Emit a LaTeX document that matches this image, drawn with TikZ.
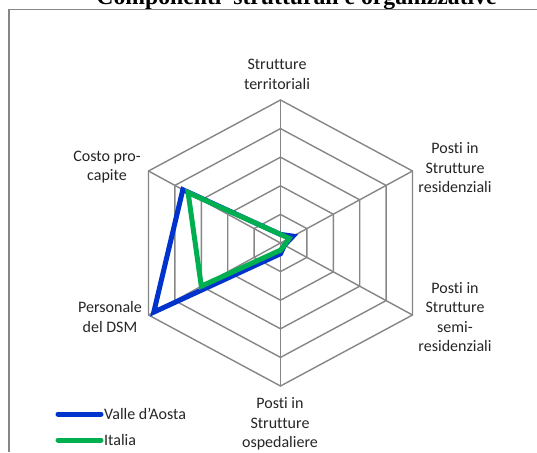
\documentclass[tikz,border=0pt]{standalone}
\usepackage{fontspec}
\setmainfont{Carlito}[Ligatures={NoCommon}]
\newfontfamily\titlefont{Liberation Serif}
\usetikzlibrary{calc}
\definecolor{gridgray}{RGB}{134,134,134}
\definecolor{vdablue}{RGB}{0,51,204}
\definecolor{itgreen}{RGB}{0,176,80}
\begin{document}
\begin{tikzpicture}[x=1pt,y=-1pt,
  lbl/.style={font=\fontsize{16}{19.5}\selectfont, align=center, inner sep=0pt, text=black!85},
  ttl/.style={font=\titlefont\bfseries\fontsize{23.7}{26}\selectfont, inner sep=0pt, anchor=base},
  frameline/.style={draw=gridgray, line width=1.5pt},
  gridline/.style={draw=gridgray, line width=1.4pt},
  vdaline/.style={draw=vdablue, line width=5pt, line join=miter, miter limit=3},
  itline/.style={draw=itgreen, line width=5pt, line join=miter, miter limit=3},
  legline/.style={line width=5pt, line cap=round, shorten >=3pt, shorten <=2pt}]
\useasboundingbox (0,0) rectangle (537,452);
\clip (0,0) rectangle (537,452);
\fill[white] (0,0) rectangle (537,452);
\node[ttl] (title) at (296.5,5) {Componenti\ \ strutturali e organizzative};
\fill[white] (9,9.5) rectangle (537,452);
\draw[frameline] (9,452) -- (9,9.5) -- (537,9.5);
\begin{scope}[shift={(280.5,243)}]
  \coordinate (c) at (0,0);
  \coordinate (a1) at (0,-143);
  \coordinate (a2) at (132,-72);
  \coordinate (a3) at (132,72);
  \coordinate (a4) at (0,143);
  \coordinate (a5) at (-132,72);
  \coordinate (a6) at (-132,-72);
  \foreach \r in {0.2,0.4,0.6,0.8,1}
    \draw[gridline] ($(c)!\r!(a1)$) -- ($(c)!\r!(a2)$) -- ($(c)!\r!(a3)$) -- ($(c)!\r!(a4)$) -- ($(c)!\r!(a5)$) -- ($(c)!\r!(a6)$) -- cycle;
  \foreach \i in {1,...,6}
    \draw[gridline] (c) -- (a\i);
  \draw[vdaline] ($(c)!0.06!(a1)$) -- ($(c)!0.095!(a2)$) -- ($(c)!0.03!(a3)$) -- ($(c)!0.075!(a4)$) -- ($(c)!0.96!(a5)$) -- ($(c)!0.74!(a6)$) -- cycle;
  \draw[itline] ($(c)!0.06!(a1)$) -- ($(c)!0.065!(a2)$) -- ($(c)!0.03!(a3)$) -- ($(c)!0.05!(a4)$) -- ($(c)!0.6!(a5)$) -- ($(c)!0.7!(a6)$) -- cycle;
\end{scope}
\node[lbl] (l1) at (277,74.5) {Strutture\\territoriali};
\node[lbl] (l2) at (455,167.7) {Posti in\\Strutture\\residenziali};
\node[lbl] (l3) at (455,317) {Posti in\\Strutture\\semi-\\residenziali};
\node[lbl] (l4) at (280,424) {Posti in\\Strutture\\ospedaliere};
\node[lbl] (l5) at (110,317) {Personale\\del DSM};
\node[lbl] (l6) at (107,167) {Costo pro-\\capite};
\coordinate (vs) at (56,414);
\node[lbl, anchor=west] (vt) at (104,414) {Valle d\symbol{"27}Aosta};
\draw[legline, vdablue] (vs) -- (vt.west);
\coordinate (is) at (56,440);
\node[lbl, anchor=west] (it) at (104,440) {Italia};
\draw[legline, itgreen] (is) -- (it.west);
\end{tikzpicture}
\end{document}
